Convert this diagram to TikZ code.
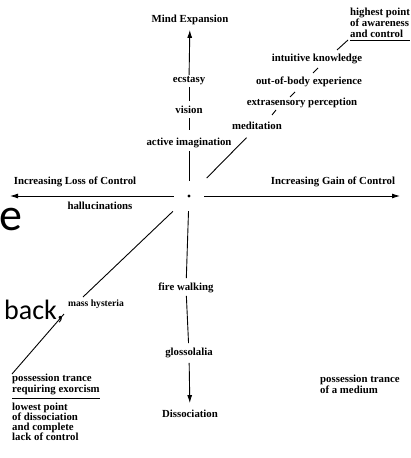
\documentclass[tikz,border=0pt]{standalone}
\usepackage{fontspec}
\setmainfont{Liberation Serif}
\newfontfamily\slidefont{Carlito}
\usetikzlibrary{arrows.meta}
\begin{document}
\begin{tikzpicture}[x=1pt,y=-1pt,
  lbl/.style={font=\fontsize{10.8}{10}\selectfont\bfseries, inner sep=0pt, text height=7.2pt, text depth=2.3pt},
  multi/.style={font=\fontsize{10.8}{11}\selectfont\bfseries, inner sep=0pt, align=left, anchor=north west},
  ln/.style={line width=0.9pt, black},
  arr/.style={ln, -{Latex[length=8pt,width=5pt]}},
  slide/.style={font=\slidefont\fontsize{28}{28}\selectfont, inner sep=0pt, anchor=base west}]
\useasboundingbox (0,0) rectangle (410,458);

% axis labels and items
\node[lbl] (ME) at (190,20) {Mind Expansion};
\node[lbl] (ec) at (189,80) {ecstasy};
\node[lbl] (vi) at (189,111) {vision};
\node[lbl] (ai) at (189,143) {active imagination};
\node[circle, minimum size=30pt, inner sep=0pt] (c) at (189,196) {};
\fill (c) circle (1.6);
\node[lbl] (fw) at (186,288) {fire walking};
\node[lbl] (gl) at (189,353) {glossolalia};
\node[lbl] (Di) at (190,415) {Dissociation};
\node[lbl] (LC) at (75,182) {Increasing Loss of Control};
\node[lbl] (GC) at (333,182) {Increasing Gain of Control};
\node[lbl] (ha) at (100,207) {hallucinations};
\node[lbl] (me) at (257,127) {meditation};
\node[lbl] (esp) at (302,103) {extrasensory perception};
\node[lbl] (obe) at (309,82) {out-of-body experience};
\node[lbl] (ik) at (317,59) {intuitive knowledge};
\node[multi] (hp) at (350,8) {highest point\\of awareness\\and control};
\node[lbl, anchor=west, font=\fontsize{9.6}{10}\selectfont\bfseries] (mh) at (68,304) {mass hysteria};
\node[multi] (pt) at (12,374) {possession trance\\requiring exorcism};
\node[multi, font=\fontsize{10.8}{10}\selectfont\bfseries] (lp) at (12,403) {lowest point\\of dissociation\\and complete\\lack of control};
\node[multi] (pm) at (320,375) {possession trance\\of a medium};

% stray slide text
\node[slide] (bk) at (4,319) {back,};
\node[slide, font=\slidefont\fontsize{46}{46}\selectfont] (ee) at (-1,230) {e};

% free ends
\coordinate (L) at (10,196);
\coordinate (R) at (400,196);
\coordinate (m1) at (83,297);
\coordinate (m2) at (64,314);
\coordinate (d1a) at (272,115); \coordinate (d1b) at (276,110);
\coordinate (d2a) at (290,97);  \coordinate (d2b) at (295,92);
\coordinate (d3a) at (313,73);  \coordinate (d3b) at (318,68);
\coordinate (d4a) at (337,50);  \coordinate (d4b) at (348,40);

% vertical axis
\draw[arr, shorten >=5pt] (ec) -- (ME);
\draw[ln, shorten <=2.5pt, shorten >=5pt] (ec) -- (vi);
\draw[ln, shorten <=2.5pt, shorten >=8pt] (vi) -- (ai);
\draw[ln, shorten <=3pt] (ai) -- (c);
\draw[ln, shorten >=5pt] (c) -- (fw);
\draw[ln, shorten <=3pt, shorten >=5pt] (fw) -- (gl);
\draw[arr, shorten <=5pt, shorten >=7pt] (gl) -- (Di);

% horizontal axis
\draw[arr] (c) -- (L);
\draw[arr] (c) -- (R);

% diagonals
\draw[ln, shorten <=10pt, shorten >=8pt] (c) -- (me);
\draw[ln] (d1a) -- (d1b);
\draw[ln] (d2a) -- (d2b);
\draw[ln] (d3a) -- (d3b);
\draw[ln] (d4a) -- (d4b);
\draw[ln, shorten <=7pt] (c) -- (m1);
\draw[ln] (m2) -- (pt.north west);

% underlines
\draw[line width=0.8pt] ([yshift=-2pt]hp.south west) -- ([yshift=-2pt]hp.south east);
\draw[line width=0.8pt] ([yshift=-3.5pt]pt.south west) -- ([yshift=-3.5pt]pt.south east);
\end{tikzpicture}
\end{document}
